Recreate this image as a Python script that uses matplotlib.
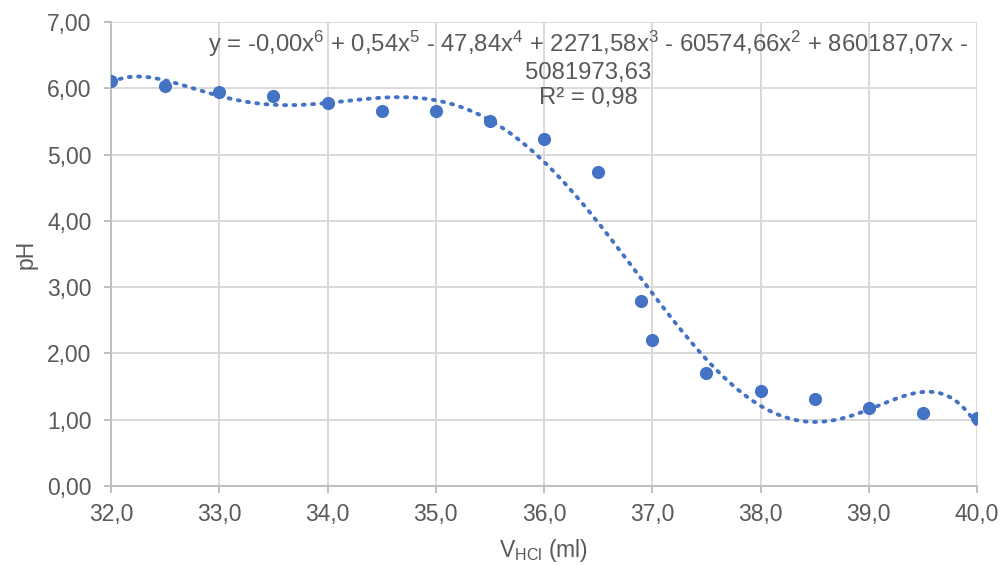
import numpy as np
import matplotlib
matplotlib.use("Agg")
import matplotlib.pyplot as plt
from matplotlib.ticker import FuncFormatter, MultipleLocator

plt.rcParams["font.family"] = ["Liberation Sans", "DejaVu Sans"]
plt.rcParams["mathtext.fontset"] = "custom"
plt.rcParams["mathtext.rm"] = "Liberation Sans"
plt.rcParams["mathtext.it"] = "Liberation Sans"

v_hcl = [32.0, 32.5, 33.0, 33.5, 34.0, 34.5, 35.0, 35.5, 36.0,
         36.5, 36.9, 37.0, 37.5, 38.0, 38.5, 39.0, 39.5, 40.0]
ph = [6.11, 6.03, 5.94, 5.89, 5.78, 5.66, 5.66, 5.50, 5.23,
      4.74, 2.79, 2.20, 1.70, 1.44, 1.31, 1.18, 1.10, 1.03]

equation = ("y = -0,00x$^{6}$ + 0,54x$^{5}$ - 47,84x$^{4}$ + 2271,58x$^{3}$"
            " - 60574,66x$^{2}$ + 860187,07x -\n5081973,63\nR² = 0,98")

blue = "#4472C4"
grey_text = "#595959"
grid_col = "#d9d9d9"
axis_col = "#bfbfbf"
fs = 16.5

fig = plt.figure(figsize=(10.02, 5.65), dpi=100)
ax = fig.add_axes([111 / 1002, 1 - 486 / 565, (977 - 111) / 1002, (486 - 22) / 565])

# 6th order polynomial trendline, as in the spreadsheet
fit = np.polynomial.Polynomial.fit(v_hcl, ph, 6)
xs = np.linspace(min(v_hcl), max(v_hcl), 400)
ax.plot(xs, fit(xs), color=blue, linestyle=(0, (0.5, 1.9)), linewidth=2.8,
        dash_capstyle="round", zorder=3)

ax.scatter(v_hcl, ph, s=90, color=blue, zorder=4, linewidths=0)

ax.set_xlim(32, 40)
ax.set_ylim(0, 7)
ax.xaxis.set_major_locator(MultipleLocator(1))
ax.yaxis.set_major_locator(MultipleLocator(1))
ax.xaxis.set_major_formatter(FuncFormatter(lambda v, p: f"{v:.1f}".replace(".", ",")))
ax.yaxis.set_major_formatter(FuncFormatter(lambda v, p: f"{v:.2f}".replace(".", ",")))

ax.grid(True, color=grid_col, linewidth=1.4)
ax.set_axisbelow(True)
for side in ["top", "right"]:
    ax.spines[side].set_visible(False)
for side in ["left", "bottom"]:
    ax.spines[side].set_color(axis_col)
    ax.spines[side].set_linewidth(1.4)

ax.tick_params(axis="both", colors=axis_col, labelcolor=grey_text,
               labelsize=fs, length=5, width=1.4)
ax.tick_params(axis="x", pad=7)
ax.tick_params(axis="y", pad=9)

ax.set_xlabel("V$_{\\mathrm{HCl}}$ (ml)", fontsize=fs, color=grey_text, labelpad=8)
ax.set_ylabel("pH", fontsize=fs, color=grey_text, labelpad=7)

fig.text(588 / 1002, 1 - 29 / 565, equation, ha="center", va="top",
         multialignment="center", fontsize=17.2, color=grey_text,
         linespacing=1.17)

fig.savefig("out.png", dpi=100)
